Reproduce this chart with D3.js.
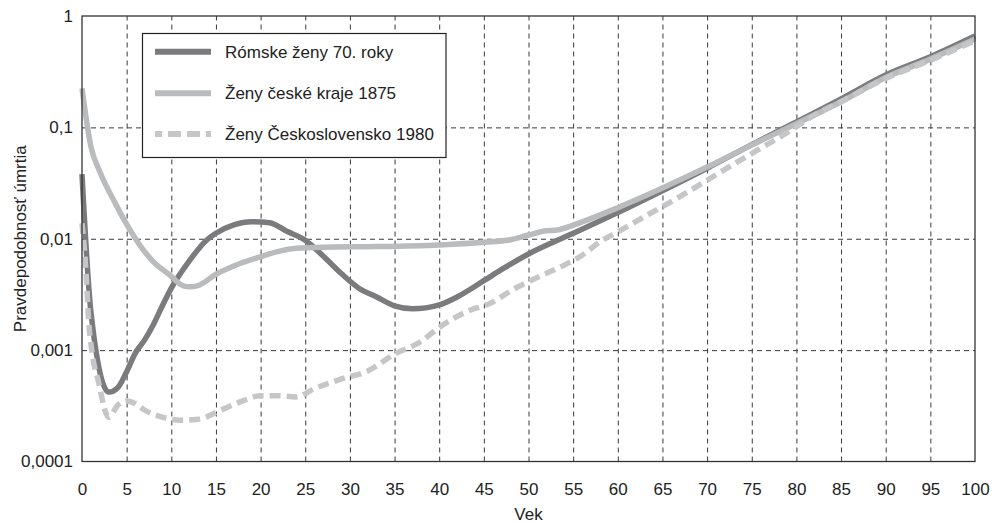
<!DOCTYPE html>
<html>
<head>
<meta charset="utf-8">
<script src="https://cdn.jsdelivr.net/npm/d3@7/dist/d3.min.js"></script>
<style>
  html, body { margin: 0; padding: 0; background: #fff; }
  svg { display: block; font-family: "Liberation Sans", Arial, sans-serif; }
</style>
</head>
<body>
<svg id="chart" width="992" height="525"></svg>
<script>
// Age-specific probability of death, three female populations
const xTicks = [0, 5, 10, 15, 20, 25, 30, 35, 40, 45, 50, 55, 60, 65, 70, 75, 80, 85, 90, 95, 100];
const yTicks = [1, 0.1, 0.01, 0.001, 0.0001];
const yTickLabels = ["1", "0,1", "0,01", "0,001", "0,0001"];

const seriesNames = ["Rómske ženy 70. roky", "Ženy české kraje 1875", "Ženy Československo 1980"];

const romaAges = [0, 1, 3, 4, 5, 6, 7, 8, 9, 10, 12, 14, 15, 17, 19, 21, 23, 25, 27, 29, 31, 33, 35, 37, 40, 42, 45, 47, 50, 53, 56, 60, 65, 70, 75, 80, 85, 90, 95, 100];
const romaValues = [0.038, 0.0022, 0.00042, 0.00046, 0.00064, 0.00095, 0.00123, 0.0017, 0.0025, 0.0036, 0.0063, 0.0098, 0.0112, 0.0133, 0.0142, 0.0139, 0.0116, 0.0097, 0.0070, 0.0049, 0.0036, 0.0030, 0.0025, 0.00235, 0.00255, 0.0030, 0.0042, 0.0053, 0.0073, 0.0095, 0.0122, 0.0172, 0.027, 0.043, 0.07, 0.112, 0.18, 0.295, 0.43, 0.66];

const bohemiaAges = [0, 1, 2, 3.7, 5, 6.5, 8, 10, 11, 12, 13, 15, 17, 20, 22, 24, 27, 33, 40, 45, 48, 50, 52, 53, 56, 60, 65, 70, 75, 80, 85, 90, 95, 100];
const bohemiaValues = [0.224, 0.067, 0.04, 0.021, 0.0135, 0.0087, 0.0062, 0.0046, 0.0039, 0.0037, 0.0038, 0.0048, 0.0057, 0.0069, 0.0077, 0.0082, 0.0084, 0.0085, 0.0088, 0.0093, 0.0098, 0.0108, 0.0118, 0.0119, 0.0142, 0.019, 0.0285, 0.044, 0.0695, 0.108, 0.17, 0.28, 0.41, 0.62];

const csAges = [0, 0.5, 0.7, 1.2, 1.8, 2.7, 3, 4, 5, 6, 7, 9, 11, 13, 16, 18, 20, 22, 24, 26, 29, 32, 35, 38, 40, 43, 46, 48, 51, 54, 56, 58, 60, 63, 67, 72, 76, 79, 82, 85, 90, 95, 100];
const csValues = [0.0138, 0.0043, 0.0021, 0.00087, 0.00054, 0.00027, 0.00025, 0.00032, 0.00035, 0.00033, 0.00029, 0.00025, 0.000235, 0.00024, 0.0003, 0.00035, 0.00039, 0.00039, 0.00038, 0.00045, 0.00055, 0.00065, 0.00092, 0.0012, 0.0016, 0.0022, 0.0027, 0.0034, 0.0045, 0.0058, 0.0071, 0.0094, 0.0115, 0.0158, 0.024, 0.042, 0.065, 0.09, 0.129, 0.17, 0.275, 0.40, 0.60];

const svg = d3.select("#chart");
const plotL = 82, plotR = 975, plotT = 16, plotB = 461.5;

const x = d3.scaleLinear().domain([0, 100]).range([plotL, plotR]);
const y = d3.scaleLog().domain([0.0001, 1]).range([plotB, plotT]);

// dashed grid
const gridX = svg.append("g")
  .attr("transform", `translate(0,${plotB})`)
  .call(d3.axisBottom(x).tickValues(xTicks.filter(d => d > 0 && d < 100)).tickSize(-(plotB - plotT)).tickFormat(""));
const gridY = svg.append("g")
  .attr("transform", `translate(${plotL},0)`)
  .call(d3.axisLeft(y).tickValues(yTicks.filter(d => d > 0.0001 && d < 1)).tickSize(-(plotR - plotL)).tickFormat(""));
[gridX, gridY].forEach(g => {
  g.select(".domain").remove();
  g.selectAll("line").attr("stroke", "#3a3a3a").attr("stroke-width", 1).attr("stroke-dasharray", "5,4");
});

// series
const series = [
  { name: seriesNames[0], ages: romaAges, values: romaValues, color: "#7b7b7d", dash: null },
  { name: seriesNames[1], ages: bohemiaAges, values: bohemiaValues, color: "#babbbd", dash: null },
  { name: seriesNames[2], ages: csAges, values: csValues, color: "#c5c6c8", dash: "11,6" }
];

const line = d3.line()
  .x(d => x(d[0]))
  .y(d => y(d[1]))
  .curve(d3.curveMonotoneX);

svg.append("g").selectAll("path")
  .data(series)
  .join("path")
  .attr("d", s => line(s.ages.map((a, i) => [a, s.values[i]])))
  .attr("fill", "none")
  .attr("stroke", s => s.color)
  .attr("stroke-width", 5.5)
  .attr("stroke-linejoin", "round")
  .attr("stroke-dasharray", s => s.dash);

// frame
svg.append("rect")
  .attr("x", plotL).attr("y", plotT)
  .attr("width", plotR - plotL).attr("height", plotB - plotT)
  .attr("fill", "none").attr("stroke", "#333").attr("stroke-width", 1.3);

// axis labels
const xAxis = svg.append("g")
  .attr("transform", `translate(0,${plotB})`)
  .call(d3.axisBottom(x).tickValues(xTicks).tickSize(0).tickPadding(21));
const yAxis = svg.append("g")
  .attr("transform", `translate(${plotL},0)`)
  .call(d3.axisLeft(y).tickValues(yTicks).tickSize(0).tickPadding(9)
    .tickFormat(d => yTickLabels[yTicks.indexOf(d)]));
[xAxis, yAxis].forEach(g => {
  g.select(".domain").remove();
  g.selectAll("text").attr("font-size", 17).attr("fill", "#222")
    .attr("font-family", "'Liberation Sans', Arial, sans-serif");
});

svg.append("text")
  .attr("x", (plotL + plotR) / 2).attr("y", 520)
  .attr("text-anchor", "middle").attr("font-size", 17).attr("fill", "#222")
  .text("Vek");

svg.append("text")
  .attr("transform", `translate(26,${(plotT + plotB) / 2}) rotate(-90)`)
  .attr("text-anchor", "middle").attr("font-size", 17).attr("fill", "#222")
  .text("Pravdepodobnosť úmrtia");

// legend
const legend = svg.append("g");
legend.append("rect")
  .attr("x", 142.5).attr("y", 33.5).attr("width", 303.5).attr("height", 124)
  .attr("fill", "#fff").attr("stroke", "#222").attr("stroke-width", 1.2);
const rows = legend.selectAll("g.row")
  .data(series)
  .join("g")
  .attr("class", "row")
  .attr("transform", (d, i) => `translate(0,${[51.7, 93.3, 134][i]})`);
rows.append("line")
  .attr("x1", 155).attr("x2", 211)
  .attr("stroke", d => d.color).attr("stroke-width", 6)
  .attr("stroke-dasharray", d => d.dash ? "7,6,13,6,13,6" : null);
rows.append("text")
  .attr("x", 225).attr("y", 6)
  .attr("font-size", 17).attr("fill", "#222")
  .text(d => d.name);
</script>
</body>
</html>
